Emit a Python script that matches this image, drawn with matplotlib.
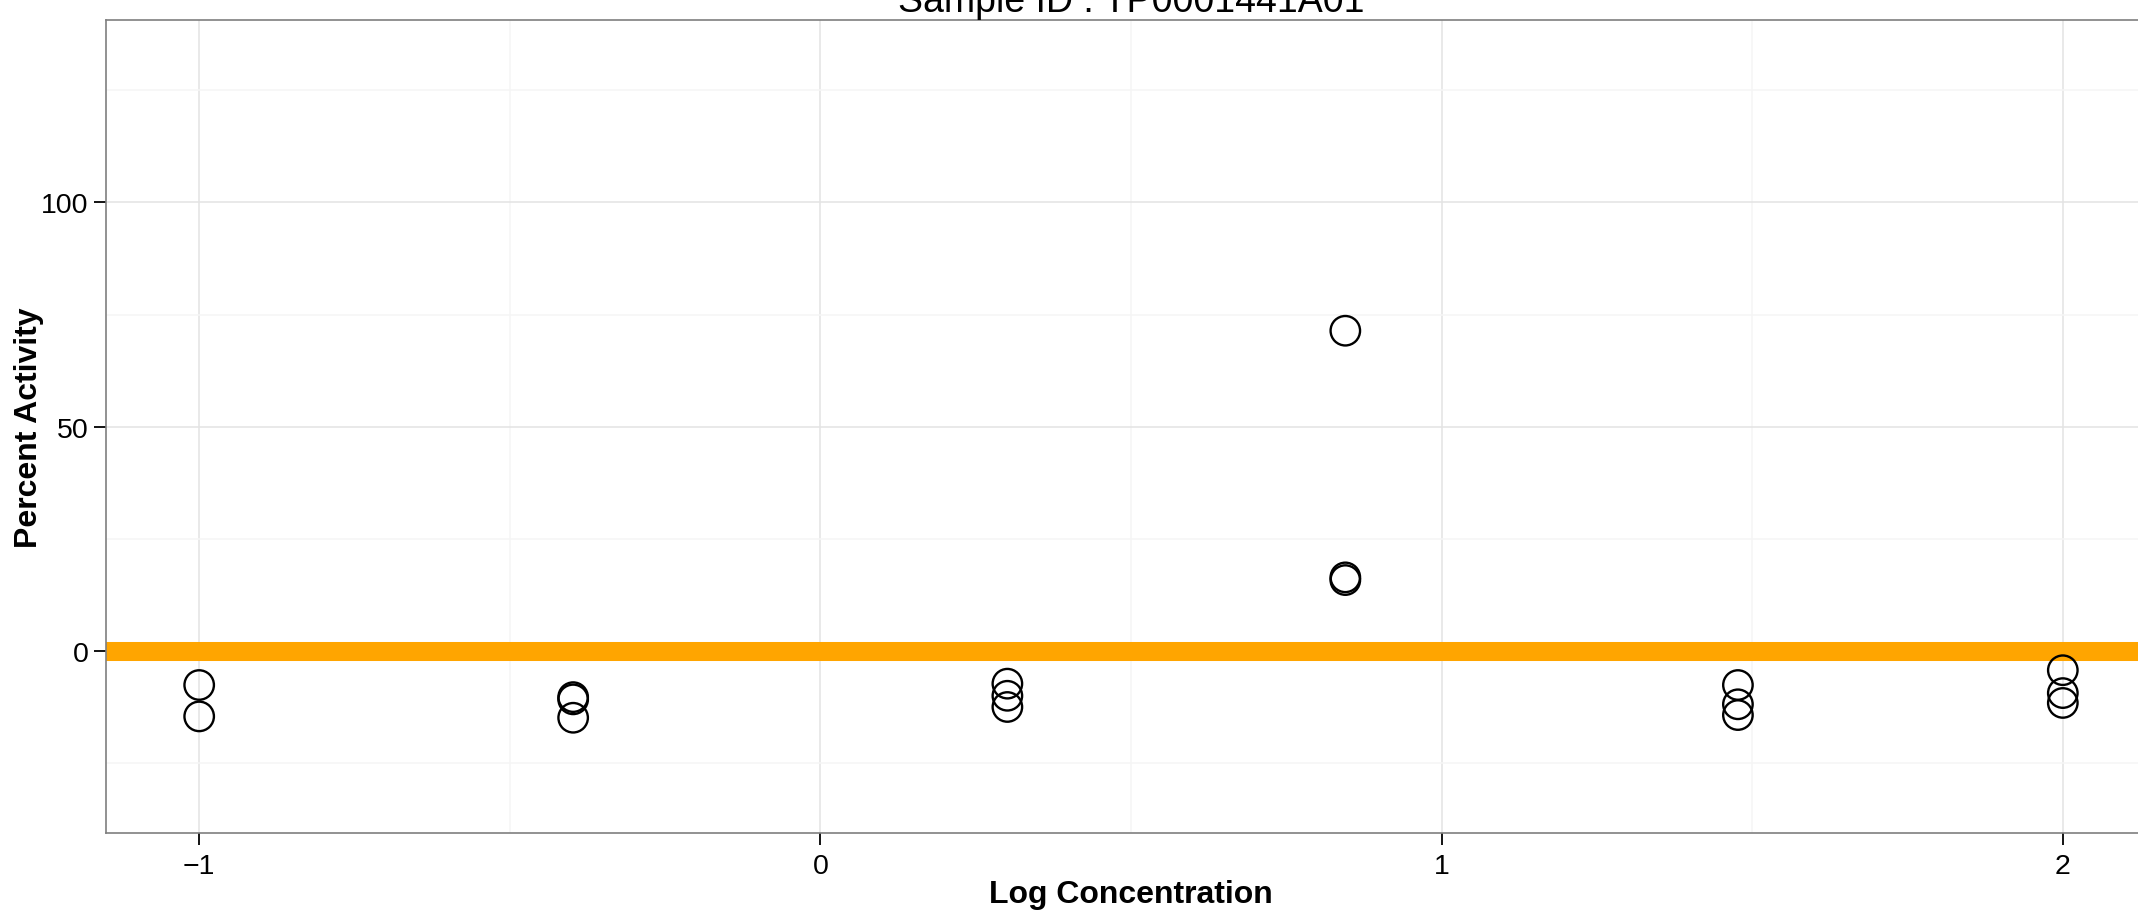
import numpy as np
import matplotlib
matplotlib.use('Agg')
import matplotlib.pyplot as plt
from matplotlib.ticker import MultipleLocator

plt.rcParams['font.family'] = ['Liberation Sans', 'DejaVu Sans']

# log10 of concentration, one entry per replicate
log_conc = [-1.0, -1.0,
            -0.398, -0.398, -0.398,
            0.301, 0.301, 0.301,
            0.845, 0.845, 0.845,
            1.477, 1.477, 1.477,
            2.0, 2.0, 2.0]
activity = [-7.6, -14.6,
            -10.3, -10.8, -14.9,
            -7.3, -10.0, -12.5,
            71.4, 16.4, 15.8,
            -7.6, -11.9, -14.3,
            -4.3, -9.4, -11.6]
fit_level = 0.0

x_ticks = [-1, 0, 1, 2]
y_ticks = [0, 50, 100]
title = 'Sample ID : TP0001441A01'

W, H = 2138, 912
fig = plt.figure(figsize=(W / 100.0, H / 100.0), dpi=100)
# panel runs slightly past the right edge of the picture
ax = fig.add_axes([106.0 / W, 78.0 / H, (2156.0 - 106.0) / W, (834.0 - 20.5) / H])

ax.set_xlim(-1.15, 2.15)
ax.set_ylim(-40.6, 140.8)

ax.xaxis.set_minor_locator(MultipleLocator(0.5))
ax.yaxis.set_minor_locator(MultipleLocator(25))
ax.set_xticks(x_ticks)
ax.set_yticks(y_ticks)
ax.set_xticklabels(['\u22121' if t < 0 else str(t) for t in x_ticks])

ax.grid(which='major', color='#e3e3e3', lw=1.1, zorder=0)
ax.grid(which='minor', color='#f5f5f5', lw=1.1, zorder=0)
ax.set_axisbelow(True)
ax.tick_params(which='minor', length=0)
ax.tick_params(which='major', direction='out', length=8.5, width=1.3,
               color='black', labelsize=20.5, labelcolor='black')
ax.tick_params(axis='x', pad=6)
ax.tick_params(axis='y', pad=4)

for s in ax.spines.values():
    s.set_color('#7f7f7f')
    s.set_linewidth(1.2)

ax.axhline(fit_level, color='#FFA500', lw=13.7, zorder=2)
ax.scatter(log_conc, activity, s=450, facecolors='none', edgecolors='black',
           linewidths=1.7, zorder=3)

ax.set_xlabel('Log Concentration', fontsize=23, fontweight='bold', labelpad=0)
ax.set_ylabel('Percent Activity', fontsize=23, fontweight='bold', labelpad=-2)
ax.set_title(title, fontsize=27, pad=2)

fig.savefig('out.png', dpi=100)
